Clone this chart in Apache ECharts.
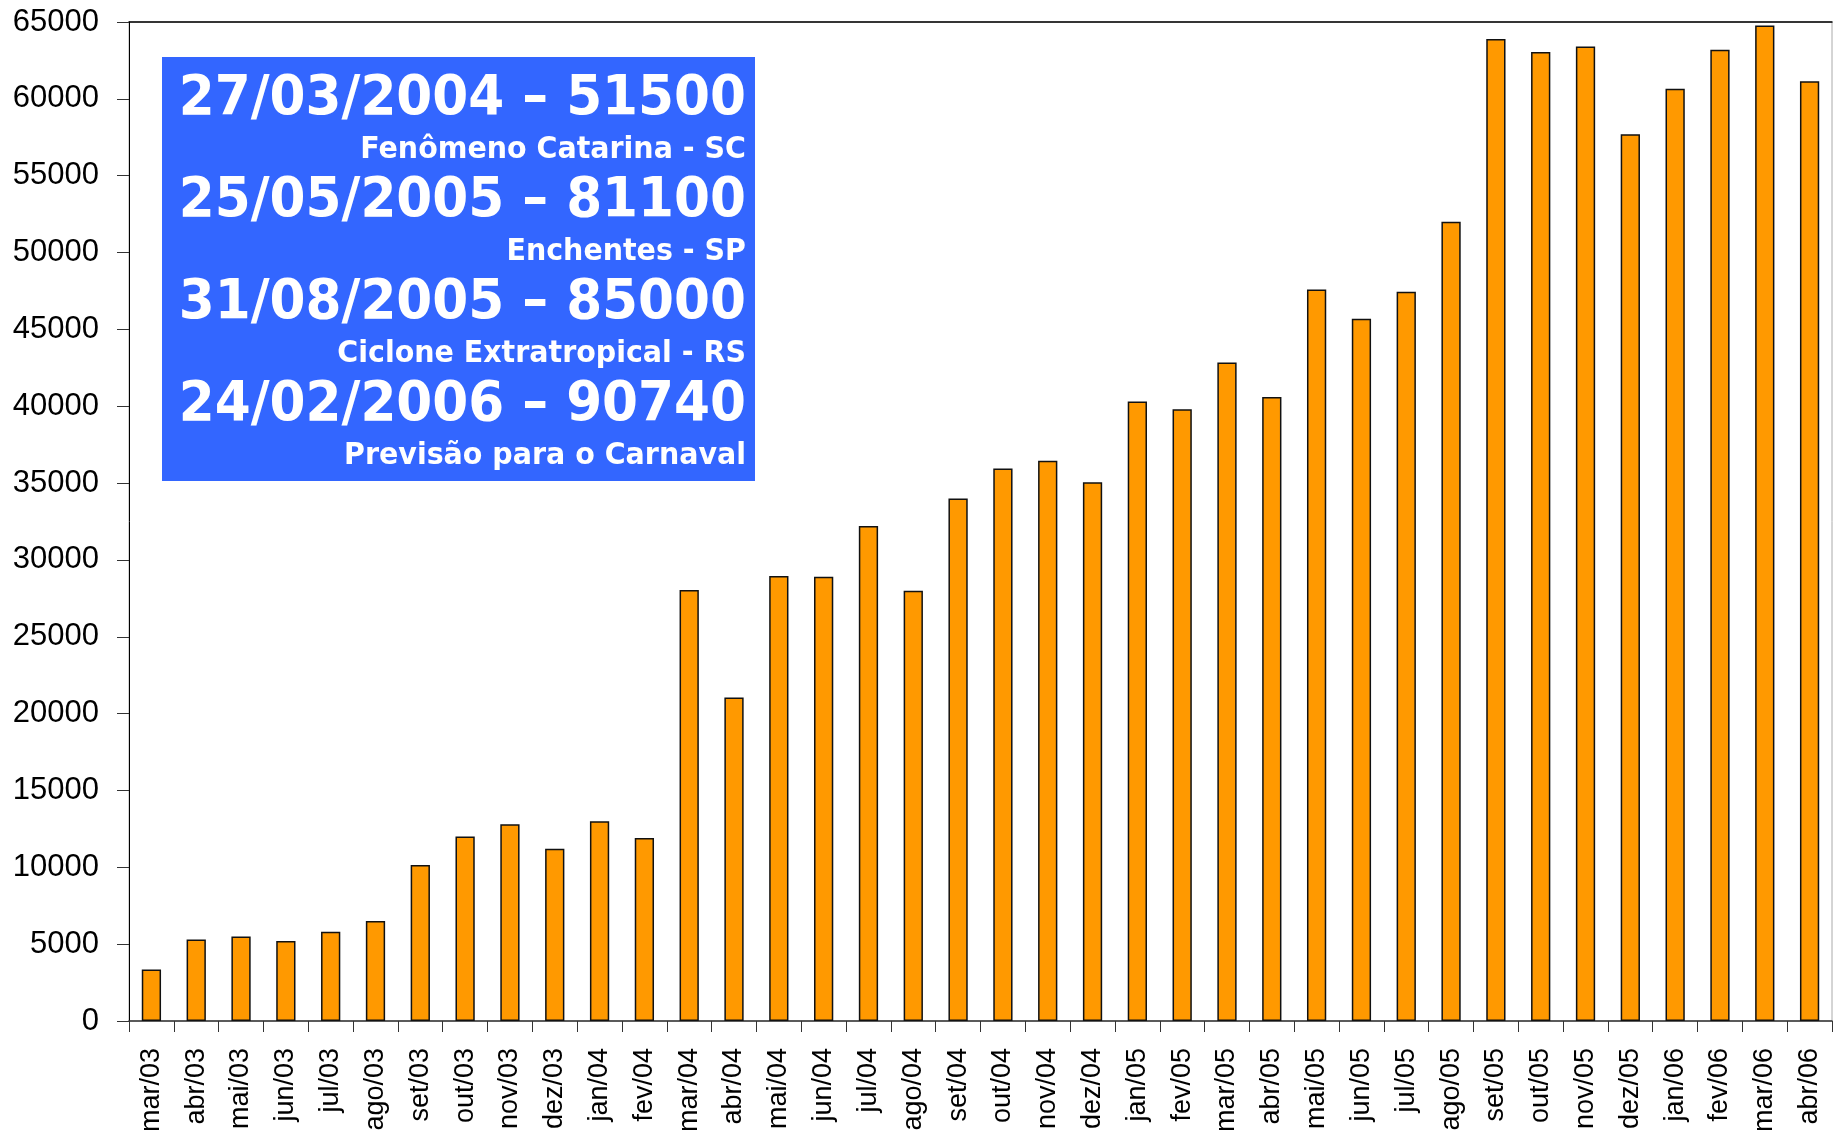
<!DOCTYPE html>
<html>
<head>
<meta charset="utf-8">
<script src="https://cdn.jsdelivr.net/npm/echarts@6/dist/echarts.min.js"></script>
<style>
html,body{margin:0;padding:0;background:#fff;}
#chart{width:1833px;height:1130px;}
</style>
</head>
<body>
<div id="chart"></div>
<script>
const categories = ['mar/03','abr/03','mai/03','jun/03','jul/03','ago/03','set/03','out/03','nov/03','dez/03',
  'jan/04','fev/04','mar/04','abr/04','mai/04','jun/04','jul/04','ago/04','set/04','out/04','nov/04','dez/04',
  'jan/05','fev/05','mar/05','abr/05','mai/05','jun/05','jul/05','ago/05','set/05','out/05','nov/05','dez/05',
  'jan/06','fev/06','mar/06','abr/06'];
const values = [3350,5300,5500,5200,5800,6500,10150,12000,12800,11200,
  13000,11900,28050,21050,28950,28900,32200,28000,34000,35950,36450,35050,
  40300,39800,42850,40600,47600,45700,47450,52000,63900,63050,63400,57700,
  60650,63200,64780,61150];
const yMin = 0, yMax = 65000, yStep = 5000;
const noteTitles = ['27/03/2004 – 51500','25/05/2005 – 81100','31/08/2005 – 85000','24/02/2006 – 90740'];
const noteSubs = ['Fenômeno Catarina - SC','Enchentes - SP','Ciclone Extratropical - RS','Previsão para o Carnaval'];

const axisFont = "'Liberation Sans', Arial, sans-serif";

const chart = echarts.init(document.getElementById('chart'), null, {renderer:'canvas'});

const graphics = [{
  type:'rect', shape:{x:162, y:57, width:593, height:424},
  style:{fill:'#3366FF'}, z:10
}];
const boxFont = "'DejaVu Sans', Verdana, sans-serif";
for (let i = 0; i < noteTitles.length; i++) {
  graphics.push({
    type:'text', x:746, y:100 + i*102, scaleX:0.94, z:11,
    style:{text:noteTitles[i], fill:'#fff', font:'bold 55px ' + boxFont, textAlign:'right', textVerticalAlign:'middle'}
  });
  graphics.push({
    type:'text', x:746, y:150 + i*102, scaleX:0.95, z:11,
    style:{text:noteSubs[i], fill:'#fff', font:'bold 30px ' + boxFont, textAlign:'right', textVerticalAlign:'middle'}
  });
}

chart.setOption({
  animation:false,
  backgroundColor:'#fff',
  grid:{left:129, right:1, top:22, bottom:109, show:true, borderColor:'#aaa', borderWidth:1,
        backgroundColor:'transparent', containLabel:false, outerBoundsMode:'none'},
  xAxis:[{
    type:'category', data:categories, boundaryGap:true,
    axisLine:{lineStyle:{color:'#333', width:1.5}},
    axisTick:{show:true, length:11, alignWithLabel:false, interval:0, lineStyle:{color:'#333', width:1}},
    axisLabel:{interval:0, rotate:90, margin:27, color:'#000', fontFamily:axisFont, fontSize:27}
  },{
    type:'category', data:categories, position:'top',
    axisLine:{show:true, lineStyle:{color:'#000', width:1.5}},
    axisTick:{show:false}, axisLabel:{show:false}
  }],
  yAxis:{
    type:'value', min:yMin, max:yMax, interval:yStep,
    axisLine:{show:true, lineStyle:{color:'#000', width:1}},
    axisTick:{show:true, length:12, lineStyle:{color:'#333', width:1}},
    splitLine:{show:false},
    axisLabel:{margin:30, color:'#000', fontFamily:axisFont, fontSize:31, formatter:function(v){return String(v);}}
  },
  series:[{
    type:'bar', data:values, barWidth:'43%',
    itemStyle:{color:'#FF9900', borderColor:'#111', borderWidth:1.5}
  }],
  graphic:graphics
});
</script>
</body>
</html>
